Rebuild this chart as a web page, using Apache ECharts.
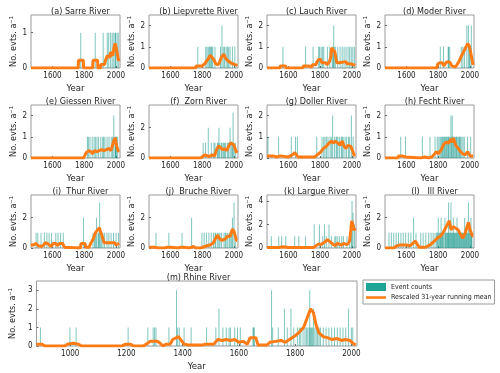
<!DOCTYPE html>
<html>
<head>
<meta charset="utf-8">
<script src="https://cdn.jsdelivr.net/npm/echarts@6/dist/echarts.min.js"></script>
<style>
  html, body { margin: 0; padding: 0; background: #fff; }
  #chart { width: 500px; height: 373px; }
</style>
</head>
<body>
<div id="chart"></div>
<script>
// 刻度
var riverTicks = [1600, 1800, 2000];
var rhineTicks = [1000, 1200, 1400, 1600, 1800, 2000];

// 事件 [年份, 次数] 与 31年滑动平均 [年份, 值]
var sarreEvents = [[1778,1],[1869,1],[1919,1],[1945,1],[1954,1],[1966,1],[1976,1],[1986,1],[1995,1],[1996,1],[2006,1],[2014,1]];
var sarreMean = [[1465,0],[1762,0],[1764,0.22],[1794,0.22],[1796,0],[1853,0],[1855,0.22],[1884,0.22],[1886,0],[1903,0],[1905,0.1],[1928,0.1],[1932,0.2],[1940,0.2],[1946,0.35],[1956,0.3],[1962,0.3],[1966,0.45],[1975,0.45],[1980,0.35],[1986,0.55],[1994,0.7],[2000,0.6],[2006,0.45],[2014,0.25],[2020,0.2]];

var liepEvents = [[1772,1],[1822,1],[1830,1],[1838,1],[1845,1],[1850,1],[1856,1],[1860,1],[1866,1],[1880,1],[1915,1],[1924,2],[1932,1],[1940,1],[1950,1],[1958,1],[1966,1],[1975,1],[1990,1],[2005,1]];
var liepMean = [[1465,0],[1758,0],[1762,0.1],[1800,0.1],[1815,0.2],[1835,0.4],[1850,0.6],[1862,0.65],[1872,0.4],[1885,0.2],[1900,0.15],[1910,0.3],[1920,0.5],[1935,0.65],[1948,0.45],[1958,0.5],[1968,0.3],[1978,0.35],[1990,0.2],[2000,0.25],[2012,0.15],[2020,0.1]];

var lauchEvents = [[1565,1],[1708,1],[1755,1],[1790,1],[1796,1],[1806,1],[1815,1],[1822,1],[1845,1],[1860,1],[1875,1],[1880,1],[1885,2],[1887,1],[1895,1],[1910,1],[1925,1],[1938,1],[1950,1],[1962,1],[1975,1],[1985,1],[1995,1],[2005,1],[2015,1]];
var lauchMean = [[1465,0],[1545,0],[1550,0.1],[1580,0.1],[1585,0],[1690,0],[1695,0.1],[1722,0.1],[1728,0.05],[1745,0.05],[1750,0.15],[1772,0.15],[1780,0.3],[1790,0.4],[1803,0.4],[1810,0.25],[1835,0.25],[1842,0.15],[1852,0.15],[1858,0.3],[1866,0.5],[1872,0.95],[1882,0.9],[1892,0.75],[1898,0.5],[1904,0.25],[1920,0.25],[1925,0.3],[1960,0.3],[1968,0.2],[1990,0.2],[1995,0.15],[2020,0.12]];

var moderEvents = [[1813,1],[1833,1],[1863,1],[1864,1],[1872,1],[1945,1],[1955,1],[1965,1],[1980,2],[1990,2],[1998,1],[1999,1],[2008,2]];
var moderMean = [[1465,0],[1790,0],[1798,0.2],[1812,0.25],[1825,0.25],[1835,0.1],[1848,0.25],[1862,0.3],[1875,0.25],[1885,0.1],[1895,0.05],[1908,0.05],[1918,0.15],[1930,0.3],[1942,0.5],[1955,0.7],[1965,0.85],[1975,1.0],[1985,1.15],[1995,1.05],[2005,0.7],[2015,0.3],[2020,0.15]];

var giessenEvents = [[1820,1],[1826,1],[1836,1],[1850,1],[1862,1],[1870,1],[1880,1],[1890,1],[1904,1],[1916,1],[1922,1],[1930,1],[1944,1],[1956,1],[1970,1],[1978,1],[1986,2],[1995,1],[1996,1],[1997,1],[2003,1],[2010,1]];
var giessenMean = [[1465,0],[1795,0],[1802,0.1],[1812,0.25],[1828,0.35],[1842,0.3],[1852,0.2],[1865,0.35],[1880,0.3],[1895,0.35],[1910,0.4],[1925,0.35],[1940,0.4],[1955,0.45],[1968,0.35],[1978,0.6],[1988,0.85],[1995,0.95],[2003,0.6],[2012,0.35],[2020,0.3]];

var zornEvents = [[1806,1],[1821,1],[1838,2],[1857,1],[1874,1],[1880,1],[1895,1],[1900,1],[1905,2],[1910,1],[1920,1],[1925,1],[1933,1],[1940,1],[1947,1],[1958,1],[1965,1],[1975,2],[1983,1],[1990,1],[1994,3],[2000,1],[2008,1]];
var zornMean = [[1465,0],[1790,0],[1800,0.1],[1815,0.2],[1830,0.15],[1845,0.1],[1860,0.2],[1878,0.15],[1890,0.55],[1903,0.8],[1915,0.7],[1928,0.55],[1942,0.6],[1955,0.5],[1965,0.75],[1978,1.0],[1990,1.1],[2000,0.85],[2012,0.45],[2020,0.35]];

var dollerEvents = [[1471,1],[1538,1],[1618,1],[1644,1],[1656,1],[1778,1],[1811,1],[1822,1],[1830,1],[1840,1],[1849,1],[1862,1],[1870,1],[1878,2],[1889,1],[1900,1],[1905,1],[1911,1],[1922,1],[1933,1],[1938,1],[1944,1],[1956,1],[1966,1],[1978,1],[1985,1],[1996,2],[2007,1]];
var dollerMean = [[1465,0.1],[1500,0.1],[1508,0.05],[1530,0.05],[1538,0.1],[1548,0.1],[1555,0.05],[1600,0.05],[1612,0.1],[1625,0.15],[1640,0.25],[1650,0.15],[1660,0.05],[1765,0.05],[1775,0.1],[1790,0.2],[1805,0.3],[1820,0.45],[1838,0.55],[1855,0.7],[1870,0.8],[1882,0.7],[1892,0.8],[1902,0.85],[1912,0.7],[1925,0.6],[1938,0.8],[1950,0.55],[1962,0.45],[1975,0.6],[1992,0.55],[2003,0.35],[2012,0.15],[2020,0.1]];

var fechtEvents = [[1564,1],[1594,1],[1700,1],[1748,1],[1780,1],[1794,1],[1804,1],[1812,1],[1818,1],[1824,1],[1828,1],[1834,1],[1840,1],[1844,1],[1850,1],[1854,1],[1860,1],[1864,1],[1868,1],[1874,1],[1880,2],[1884,1],[1888,2],[1894,1],[1898,1],[1904,1],[1910,1],[1914,1],[1918,1],[1924,1],[1930,1],[1934,1],[1940,1],[1948,1],[1956,1],[1964,1],[1984,1],[2004,1]];
var fechtMean = [[1465,0],[1545,0],[1552,0.1],[1570,0.1],[1578,0.05],[1598,0.05],[1605,0],[1690,0],[1695,0.05],[1715,0.05],[1720,0],[1740,0],[1745,0.05],[1760,0.05],[1765,0],[1772,0.15],[1788,0.3],[1800,0.2],[1810,0.25],[1820,0.4],[1835,0.65],[1850,0.75],[1865,0.7],[1880,0.9],[1888,0.75],[1895,0.95],[1910,0.6],[1925,0.45],[1940,0.3],[1955,0.2],[1970,0.15],[1985,0.3],[2000,0.1],[2010,0.15],[2020,0.1]];

var thurEvents = [[1497,1],[1508,1],[1528,1],[1549,1],[1565,1],[1579,1],[1594,1],[1621,1],[1635,1],[1651,1],[1668,1],[1795,2],[1855,1],[1865,1],[1870,1],[1877,2],[1887,1],[1890,1],[1897,3],[1900,1],[1908,1],[1918,1],[1928,1],[1943,1],[1955,1],[1969,1],[1984,1],[2000,1],[2016,1]];
var thurMean = [[1465,0.2],[1480,0.2],[1495,0.3],[1510,0.15],[1530,0.1],[1545,0.2],[1555,0.35],[1575,0.25],[1590,0.1],[1605,0.3],[1620,0.3],[1630,0.15],[1645,0.3],[1665,0.3],[1675,0.05],[1680,0],[1775,0],[1780,0.3],[1805,0.3],[1810,0.05],[1830,0.05],[1840,0.3],[1855,0.55],[1870,1.0],[1880,1.1],[1895,1.35],[1905,1.0],[1915,0.7],[1925,0.35],[1990,0.35],[2000,0.2],[2010,0.3],[2020,0.3]];

var brucheEvents = [[1509,1],[1590,1],[1673,1],[1733,2],[1798,1],[1812,1],[1826,1],[1842,1],[1857,1],[1871,1],[1881,1],[1885,1],[1897,1],[1905,1],[1911,1],[1921,1],[1937,1],[1945,1],[1950,1],[1960,1],[1970,1],[1976,1],[1985,1],[1990,2],[2000,3],[2008,1]];
var brucheMean = [[1465,0.05],[1500,0.05],[1520,0],[1560,0],[1580,0.05],[1600,0.05],[1610,0],[1650,0],[1665,0.05],[1685,0.05],[1690,0],[1718,0],[1720,0.1],[1745,0.1],[1760,0],[1790,0],[1800,0.1],[1830,0.15],[1850,0.2],[1870,0.35],[1880,0.45],[1895,0.85],[1910,0.6],[1925,0.5],[1945,0.6],[1960,0.8],[1975,0.75],[1990,1.25],[2000,1.1],[2015,0.5],[2020,0.5]];

var largueEvents = [[1492,1],[1539,1],[1557,1],[1583,1],[1639,1],[1665,1],[1708,1],[1762,2],[1795,2],[1816,1],[1827,2],[1838,1],[1855,2],[1870,1],[1892,1],[1898,1],[1907,1],[1920,1],[1935,1],[1946,1],[1968,1],[1985,1],[1996,2],[2000,4],[2006,3],[2015,2]];
var largueMean = [[1465,0.05],[1540,0.05],[1550,0.1],[1565,0.1],[1575,0.05],[1600,0.05],[1610,0.15],[1622,0.05],[1700,0.05],[1710,0.1],[1722,0.05],[1760,0.05],[1772,0.2],[1790,0.35],[1805,0.3],[1818,0.4],[1830,0.45],[1845,0.7],[1855,0.75],[1868,0.45],[1882,0.3],[1895,0.2],[1908,0.4],[1920,0.3],[1935,0.25],[1948,0.4],[1962,0.3],[1975,0.35],[1985,0.6],[1993,1.6],[1998,2.3],[2005,2.0],[2012,1.5],[2020,1.7]];

var illEvents = [[1490,1],[1505,1],[1520,1],[1535,1],[1550,1],[1565,1],[1580,1],[1595,1],[1612,1],[1628,1],[1645,2],[1660,1],[1690,1],[1705,1],[1722,1],[1740,1],[1755,1],[1768,1],[1780,1],[1790,1],[1795,1],[1800,2],[1805,1],[1810,1],[1814,1],[1818,2],[1822,1],[1826,1],[1830,1],[1835,1],[1842,2],[1846,1],[1850,1],[1854,1],[1858,1],[1862,1],[1865,3],[1868,1],[1872,1],[1876,1],[1880,3],[1884,1],[1888,1],[1892,1],[1895,2],[1898,1],[1902,1],[1906,1],[1910,1],[1914,1],[1918,2],[1922,1],[1926,1],[1930,1],[1934,1],[1938,1],[1942,1],[1946,1],[1950,1],[1954,1],[1958,1],[1962,1],[1966,2],[1970,1],[1974,1],[1978,1],[1982,1],[1986,1],[1990,3],[1994,1],[1998,1],[2002,1],[2006,2],[2009,1],[2012,1]];
var illMean = [[1465,0],[1520,0],[1540,0.15],[1560,0.2],[1600,0.2],[1620,0.15],[1640,0.3],[1655,0.45],[1665,0.35],[1680,0.05],[1720,0.05],[1740,0.15],[1760,0.3],[1780,0.5],[1800,0.7],[1815,0.8],[1830,1.0],[1855,1.5],[1870,1.8],[1880,1.2],[1895,1.4],[1910,1.3],[1925,1.2],[1940,0.9],[1955,0.65],[1970,1.0],[1990,1.7],[2000,1.2],[2015,0.8],[2020,0.8]];

var rhineEvents = [[894,1],[999,1],[1021,1],[1206,1],[1276,1],[1295,1],[1300,1],[1305,1],[1351,1],[1378,3],[1382,1],[1388,1],[1405,1],[1430,1],[1485,1],[1518,1],[1529,2],[1543,1],[1555,1],[1565,1],[1570,1],[1585,1],[1595,1],[1605,1],[1650,1],[1652,1],[1655,1],[1716,3],[1720,1],[1740,1],[1762,2],[1772,1],[1785,2],[1795,1],[1808,1],[1815,1],[1820,1],[1828,1],[1835,1],[1840,1],[1845,1],[1850,1],[1852,3],[1855,1],[1858,1],[1862,1],[1865,2],[1870,1],[1875,1],[1880,1],[1885,1],[1890,1],[1900,1],[1910,1],[1920,1],[1930,1],[1940,1],[1950,1],[1960,1],[1970,1],[1980,1],[1990,2],[2000,1],[2005,1]];
var rhineMean = [[880,0.1],[900,0.1],[910,0],[980,0],[990,0.1],[1010,0.15],[1030,0.1],[1040,0],[1185,0],[1195,0.1],[1215,0.1],[1225,0],[1260,0],[1270,0.1],[1285,0.25],[1310,0.25],[1320,0.15],[1330,0],[1340,0.1],[1355,0.1],[1365,0.35],[1385,0.5],[1395,0.3],[1405,0.1],[1420,0.05],[1470,0.05],[1480,0.1],[1510,0.1],[1525,0.35],[1540,0.3],[1555,0.35],[1570,0.3],[1585,0.35],[1600,0.2],[1615,0.25],[1630,0.1],[1640,0.45],[1660,0.45],[1668,0.05],[1700,0.05],[1710,0.2],[1730,0.25],[1750,0.3],[1765,0.2],[1780,0.35],[1800,0.55],[1815,0.75],[1830,1.0],[1845,1.6],[1855,2.0],[1865,1.8],[1875,1.1],[1885,0.7],[1900,0.5],[1915,0.45],[1930,0.35],[1950,0.4],[1965,0.3],[1980,0.35],[1995,0.3],[2005,0.15],[2015,0.05]];

var titles = ['(a) Sarre River','(b) Liepvrette River','(c) Lauch River','(d) Moder River',
  '(e) Giessen River','(f)  Zorn River','(g) Doller River','(h) Fecht River',
  '(i)  Thur River','(j)  Bruche River','(k) Largue River','(l)   Ill River','(m) Rhine River'];
var events = [sarreEvents, liepEvents, lauchEvents, moderEvents, giessenEvents, zornEvents, dollerEvents, fechtEvents,
  thurEvents, brucheEvents, largueEvents, illEvents, rhineEvents];
var means = [sarreMean, liepMean, lauchMean, moderMean, giessenMean, zornMean, dollerMean, fechtMean,
  thurMean, brucheMean, largueMean, illMean, rhineMean];
var yMax = [1.5, 2.5, 2.5, 2.5, 2.5, 3.5, 2.5, 2.5, 3.5, 3.5, 4.5, 3.5, 3.5];
var yTicks = [[0,1],[0,1,2],[0,1,2],[0,1,2],[0,1,2],[0,2],[0,1,2],[0,1,2],[0,2],[0,2],[0,2,4],[0,2],[0,1,2,3]];

(function () {
  var chartDom = document.getElementById('chart');
  var myChart = echarts.init(chartDom);
  var font = "'DejaVu Sans Condensed', 'DejaVu Sans', sans-serif";
  var barColor = 'rgba(22,152,138,0.55)';
  var lineColor = '#ff7b13';

  // 面板位置
  var colLeft = [31, 149, 267, 385];
  var rowTop = [15, 105, 195];
  var boxes = [];
  for (var i = 0; i < 12; i++) {
    boxes.push({ left: colLeft[i % 4], top: rowTop[Math.floor(i / 4)], width: 89, height: 53 });
  }
  boxes.push({ left: 30, top: 281, width: 327, height: 65 });

  var grid = [], xAxis = [], yAxis = [], series = [], title = [];
  boxes.forEach(function (b, i) {
    var isRhine = i === 12;
    var ticks = isRhine ? rhineTicks : riverTicks;
    grid.push({
      left: b.left, top: b.top, width: b.width, height: b.height,
      show: true, borderColor: '#9a9a9a', borderWidth: 1
    });
    title.push({
      text: titles[i],
      left: b.left + b.width / 2, top: b.top - 13,
      textAlign: 'center',
      textStyle: { fontFamily: font, fontSize: 9, fontWeight: 'normal', color: '#222' }
    });
    xAxis.push({
      type: 'value', gridIndex: i,
      min: isRhine ? 880 : 1465, max: isRhine ? 2020 : 2025,
      name: 'Year', nameLocation: 'middle', nameGap: 16,
      nameTextStyle: { fontFamily: font, fontSize: 9.5, color: '#222' },
      axisLine: { show: false },
      axisTick: { inside: true, length: 2, customValues: ticks, lineStyle: { color: '#666' } },
      axisLabel: {
        customValues: ticks, fontFamily: font, fontSize: 8, color: '#222', margin: 4,
        formatter: function (v) { return String(v); }
      },
      splitLine: { show: false }
    });
    yAxis.push({
      type: 'value', gridIndex: i,
      min: 0, max: yMax[i],
      name: 'No. evts. a\u207B\u00B9', nameLocation: 'middle', nameGap: 12,
      nameTextStyle: { fontFamily: font, fontSize: 9, color: '#222' },
      axisLine: { show: false },
      axisTick: { inside: true, length: 2, customValues: yTicks[i], lineStyle: { color: '#666' } },
      axisLabel: { customValues: yTicks[i], fontFamily: font, fontSize: 8, color: '#222', margin: 4 },
      splitLine: { show: false }
    });
    series.push({
      name: 'Event counts', type: 'bar',
      xAxisIndex: i, yAxisIndex: i,
      barWidth: 1,
      itemStyle: { color: barColor },
      data: events[i]
    });
    series.push({
      name: 'Rescaled 31-year running mean', type: 'line',
      xAxisIndex: i, yAxisIndex: i,
      symbol: 'none',
      lineStyle: { color: lineColor, width: 3 },
      itemStyle: { color: lineColor },
      z: 3,
      data: means[i]
    });
  });

  var option = {
    animation: false,
    title: title,
    grid: grid,
    xAxis: xAxis,
    yAxis: yAxis,
    legend: {
      orient: 'vertical',
      left: 363, top: 280,
      borderColor: '#9a9a9a', borderWidth: 1,
      padding: [3, 3],
      itemGap: 3,
      itemWidth: 20, itemHeight: 8,
      textStyle: { fontFamily: font, fontSize: 7, color: '#222' },
      data: [
        { name: 'Event counts', icon: 'rect', itemStyle: { color: '#1fa595' } },
        { name: 'Rescaled 31-year running mean', icon: 'path://M0,0L24,0L24,3L0,3Z', itemStyle: { color: lineColor } }
      ]
    },
    series: series
  };

  option && myChart.setOption(option);
})();
</script>
</body>
</html>
